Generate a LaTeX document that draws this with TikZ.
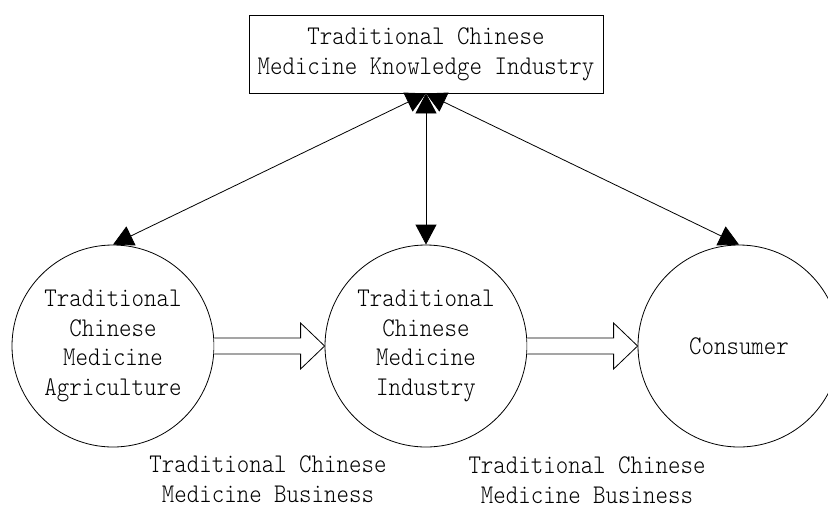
\documentclass[tikz,border=0pt]{standalone}
\usepackage{fontspec}
\usetikzlibrary{arrows.meta,calc}
\newfontfamily\lab[FakeStretch=0.88]{lmmonolt10-regular.otf}
\begin{document}
\begin{tikzpicture}[x=1pt,y=-1pt,
  txt/.style={font={\lab\fontsize{27}{29.8}\selectfont}, align=center, inner sep=0pt},
  stage/.style={txt, circle, draw, line width=0.8pt, minimum size=202pt},
  hub/.style={txt, rectangle, draw, line width=0.8pt, minimum width=354pt, minimum height=78pt},
  link/.style={line width=0.8pt, {Triangle[length=20pt,width=21pt]}-{Triangle[length=20pt,width=21pt]}},
  flow/.style={draw, line width=0.8pt, fill=white, line join=miter}
]
\useasboundingbox (0,0) rectangle (828,507);
\clip (0,0) rectangle (828,507);
\fill[white] (0,0) rectangle (828,507);

% knowledge industry at the top
\node[hub] (know) at (426,54) {Traditional Chinese\\Medicine Knowledge Industry};

% the three stages of the chain
\node[stage] (agr) at (113,346) {Traditional\\Chinese\\Medicine\\Agriculture};
\node[stage] (ind) at (426,346) {Traditional\\Chinese\\Medicine\\Industry};
\node[stage] (con) at (739,346) {Consumer};

% two-way links to the knowledge industry
\draw[link] (know.south) -- (agr.north);
\draw[link] (know.south) -- (ind.north);
\draw[link] (know.south) -- (con.north);

% hollow business-flow arrows
\draw[flow] ($(agr.east)+(0,-8)$) -- ($(ind.west)+(-24,-8)$) -- ($(ind.west)+(-24,-23)$)
  -- (ind.west) -- ($(ind.west)+(-24,23)$) -- ($(ind.west)+(-24,8)$) -- ($(agr.east)+(0,8)$);
\draw[flow] ($(ind.east)+(0,-8)$) -- ($(con.west)+(-24,-8)$) -- ($(con.west)+(-24,-23)$)
  -- (con.west) -- ($(con.west)+(-24,23)$) -- ($(con.west)+(-24,8)$) -- ($(ind.east)+(0,8)$);

% flow labels
\node[txt] (bus1) at (268,479) {Traditional Chinese\\Medicine Business};
\node[txt] (bus2) at (587,480) {Traditional Chinese\\Medicine Business};
\end{tikzpicture}
\end{document}
